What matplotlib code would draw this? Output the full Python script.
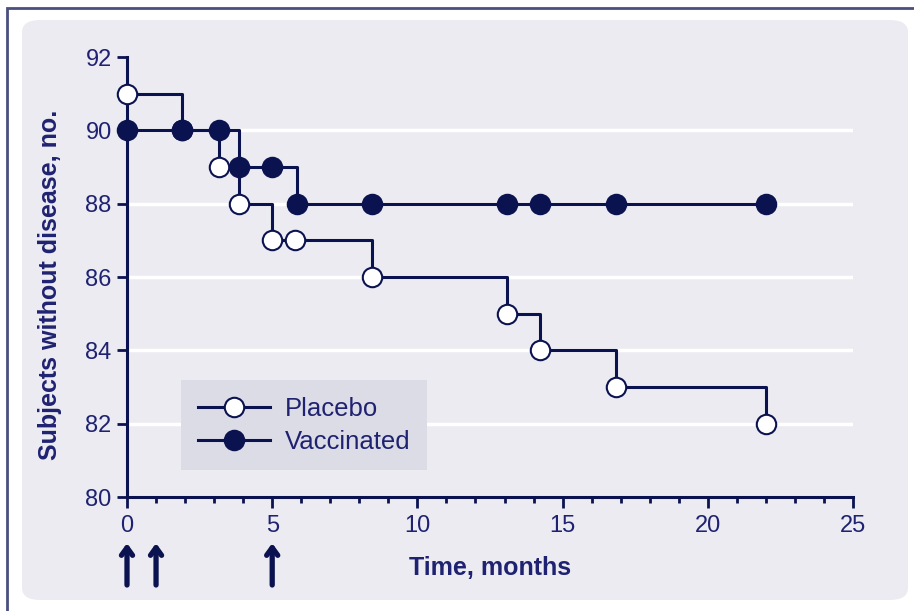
import matplotlib.pyplot as plt
from matplotlib.patches import FancyBboxPatch, Rectangle
from matplotlib.ticker import MultipleLocator
import matplotlib.transforms as mtransforms

plt.rcParams['font.family'] = ['Liberation Sans', 'DejaVu Sans']

# datos (meses, numero de sujetos sin enfermedad)
placebo_t = [0, 1.9, 3.17, 3.86, 4.99, 5.79, 8.44, 13.09, 14.22, 16.84, 22.0]
placebo_n = [91, 90, 89, 88, 87, 87, 86, 85, 84, 83, 82]
vacc_t = [0, 1.9, 3.17, 3.86, 4.99, 5.85, 8.44, 13.09, 14.22, 16.84, 22.0]
vacc_n = [90, 90, 90, 89, 89, 88, 88, 88, 88, 88, 88]
dose_months = [0, 1, 5]
grid_levels = [82, 84, 86, 88, 90]

navy = '#0b1250'
text_navy = '#1f2270'
panel = '#ecebf1'

fig = plt.figure(figsize=(9.14, 6.11), dpi=100)
fig.patch.set_facecolor('white')

# marco exterior y panel gris
fig.patches.append(Rectangle((7/914, -0.05), 1.2, 1.05 - 8/611,
                             transform=fig.transFigure, fill=False,
                             edgecolor='#4a4f80', lw=2, zorder=-2))
fig.patches.append(FancyBboxPatch((22/914, 11/611), 886/914, 580/611,
                                  boxstyle='round,pad=0,rounding_size=0.02',
                                  transform=fig.transFigure,
                                  facecolor=panel, edgecolor='none', zorder=-1))

ax = fig.add_axes([127/914, 1 - 497/611, 726/914, 440/611])
ax.set_facecolor('none')

for lvl in grid_levels:
    ax.axhline(lvl, color='white', lw=2.5, zorder=1)

ax.plot(placebo_t, placebo_n, drawstyle='steps-post', color=navy, lw=2.2,
        zorder=3, clip_on=False)
ax.plot(placebo_t, placebo_n, 'o', color=navy, ms=14, mfc='white', mec=navy,
        mew=1.5, zorder=4, clip_on=False, label='Placebo')
ax.plot(vacc_t, vacc_n, drawstyle='steps-post', color=navy, lw=2.2,
        zorder=5, clip_on=False)
ax.plot(vacc_t, vacc_n, 'o', color=navy, ms=14, mfc=navy, mec=navy, mew=1.5,
        zorder=6, clip_on=False, label='Vaccinated')

ax.set_xlim(0, 25)
ax.set_ylim(80, 92)
ax.xaxis.set_major_locator(MultipleLocator(5))
ax.xaxis.set_minor_locator(MultipleLocator(1))
ax.yaxis.set_major_locator(MultipleLocator(2))

for s in ['top', 'right']:
    ax.spines[s].set_visible(False)
for s in ['left', 'bottom']:
    ax.spines[s].set_color(navy)
    ax.spines[s].set_linewidth(2.2)

ax.tick_params(axis='y', which='major', direction='out', length=7, width=2,
               color=navy, labelcolor=text_navy, labelsize=17, pad=4)
ax.tick_params(axis='x', which='major', direction='out', length=8, width=2,
               color=navy, labelcolor=text_navy, labelsize=17, pad=5)
ax.tick_params(axis='x', which='minor', direction='out', length=4, width=2,
               color=navy)

ax.set_xlabel('Time, months', fontsize=18, fontweight='bold', color=text_navy)
ax.xaxis.set_label_coords(0.5, -0.135)
ax.set_ylabel('Subjects without disease, no.', fontsize=18, fontweight='bold',
              color=text_navy)
ax.yaxis.set_label_coords(-0.09, 0.482)

# flechas de dosis
trans = mtransforms.blended_transform_factory(ax.transData, ax.transAxes)
for m in dose_months:
    ax.annotate('', xy=(m, -0.105), xytext=(m, -0.2), xycoords=trans,
                textcoords=trans,
                arrowprops=dict(arrowstyle='->,head_width=0.4,head_length=0.55',
                                color=navy, lw=3.8, shrinkA=0, shrinkB=0))

leg = ax.legend(loc='upper left', bbox_to_anchor=(54/726, (497-380)/440),
                frameon=True, fancybox=False, fontsize=18.5, handlelength=2.8,
                borderpad=0.65, labelspacing=0.35, handletextpad=0.6,
                borderaxespad=0)
leg.get_frame().set_facecolor('#dcdce7')
leg.get_frame().set_edgecolor('none')
leg.get_frame().set_alpha(1)
for h in leg.get_lines():
    h.set_linestyle('-')
    h.set_linewidth(2.2)
for t in leg.get_texts():
    t.set_color(text_navy)

plt.savefig('out.png', dpi=100)
